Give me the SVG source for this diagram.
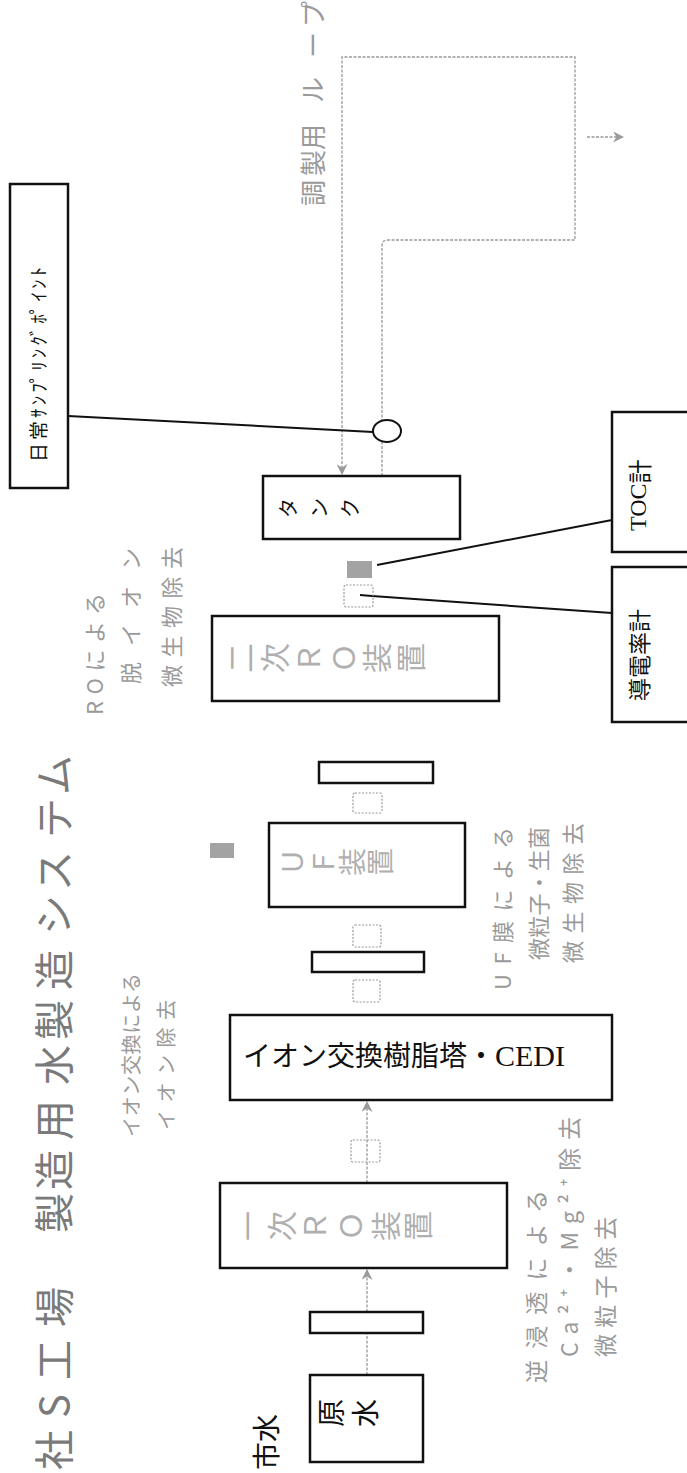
<svg xmlns="http://www.w3.org/2000/svg" width="687" height="1473" viewBox="0 0 687 1473">
<defs>
<style>
.box{fill:#fff;stroke:#111;stroke-width:2.5}
.flt{fill:#fff;stroke:#111;stroke-width:2.5}
.dbox{fill:none;stroke:#999;stroke-width:1.2;stroke-dasharray:2 1.5}
.gsq{fill:#a3a3a3}
.flow{fill:none;stroke:#999;stroke-width:1.3;stroke-dasharray:3 1.5}
.blk{fill:none;stroke:#111;stroke-width:2}
.jp{font-family:"Noto Sans CJK JP","Noto Sans",sans-serif}
.ser{font-family:"Liberation Serif","Noto Sans CJK JP",serif}
.gray{fill:#9a9a9a}
.lgray{fill:#b0b0b0}
.dark{fill:#111}
</style>
<marker id="arr" viewBox="0 0 10 10" refX="9" refY="5" markerWidth="11" markerHeight="11" markerUnits="userSpaceOnUse" orient="auto">
<path d="M0,0 L10,5 L0,10 L3,5 z" fill="#9a9a9a"/>
</marker>
</defs>
<rect width="687" height="1473" fill="#fff"/>

<g id="title">
<text class="jp" fill="#7a7a7a" font-size="40" transform="rotate(-90)" text-anchor="middle" dominant-baseline="central" y="52" x="-1450 -1406 -1360 -1307 -1213 -1170 -1120 -1065 -1020 -970 -915 -871 -818 -775">社S工場製造用水製造システム</text>
</g>

<g id="connectors">
<line class="flow" x1="367" y1="1375" x2="367" y2="1333"/>
<line class="flow" x1="367" y1="1312" x2="367" y2="1270" marker-end="url(#arr)"/>
<line class="flow" x1="367" y1="1183" x2="367" y2="1102" marker-end="url(#arr)"/>
<path class="flow" d="M382,476 V246 Q382,240 388,240 H575 V57 H342 V474" marker-end="url(#arr)"/>
<line class="flow" x1="587" y1="137" x2="623" y2="137" marker-end="url(#arr)"/>
<line class="blk" x1="68" y1="416" x2="373" y2="432"/>
<line class="blk" x1="377" y1="565" x2="612" y2="520"/>
<polyline class="blk" points="360,595 372,596 612,613"/>
</g>

<g id="shiyousui">
<text class="jp dark" font-size="28" transform="rotate(-90)" x="-1470" y="265" dominant-baseline="central">市水</text>
</g>

<g id="gensui">
<rect class="box" x="310" y="1375" width="113" height="87"/>
<text class="jp dark" font-size="28" rotate="-90" x="341.6 375.6" y="1427">原水</text>
</g>

<g id="filter1"><rect class="flt" x="310" y="1312" width="113" height="21"/></g>

<g id="ro1">
<rect class="box" x="220" y="1183" width="287" height="85"/>
<text class="jp lgray" font-size="30" rotate="-90" x="259.4 293.4 326.4 362.4 397.4 429.4" y="1241">一次ＲＯ装置</text>
</g>

<g id="valve1"><rect class="dbox" x="351" y="1140" width="29" height="22" rx="2"/></g>

<g id="ion">
<rect class="box" x="230" y="1015" width="382" height="85"/>
<text class="dark" font-size="28" x="243" y="1066"><tspan class="jp">イオン交換樹脂塔・</tspan><tspan class="ser" font-size="30">CEDI</tspan></text>
</g>

<g id="valve2"><rect class="dbox" x="353" y="980" width="27" height="22" rx="2"/></g>
<g id="filter2"><rect class="flt" x="312" y="952" width="112" height="20"/></g>
<g id="valve3"><rect class="dbox" x="353" y="925" width="28" height="22" rx="2"/></g>

<g id="uf">
<rect class="box" x="269" y="823" width="196" height="84"/>
<text class="jp lgray" font-size="28" rotate="-90" x="302.6 333.6 362.6 390.6" y="876">ＵＦ装置</text>
</g>
<g id="uf-point"><rect class="gsq" x="210" y="843" width="24" height="15"/></g>

<g id="valve4"><rect class="dbox" x="353" y="793" width="29" height="20" rx="2"/></g>
<g id="filter3"><rect class="flt" x="319" y="762" width="114" height="21"/></g>

<g id="ro2">
<rect class="box" x="212" y="616" width="287" height="85"/>
<text class="jp lgray" font-size="30" rotate="-90" x="252.4 286.4 320.4 355.4 388.4 422.4" y="673">二次ＲＯ装置</text>
</g>

<g id="cond-point"><rect class="dbox" x="344" y="585" width="29" height="22" rx="2"/></g>
<g id="toc-point"><rect class="gsq" x="347" y="561" width="25" height="17"/></g>

<g id="tank">
<rect class="box" x="263" y="476" width="197" height="63"/>
<text class="jp dark" font-size="20" rotate="-90" x="295.6 326.6 357.6" y="518">タンク</text>
</g>

<g id="sampling-point"><ellipse cx="387" cy="431" rx="14" ry="11" fill="#fff" stroke="#111" stroke-width="2"/></g>

<g id="sampling">
<rect class="box" x="10" y="184" width="58" height="304"/>
<text class="jp dark" font-size="19" transform="rotate(-90)" x="-462" y="37" dominant-baseline="central" textLength="195" lengthAdjust="spacing">日常ｻﾝﾌﾟﾘﾝｸﾞﾎﾟｲﾝﾄ</text>
</g>

<g id="toc">
<rect class="box" x="612" y="412" width="90" height="140"/>
<text class="dark" font-size="24" transform="rotate(-90)" x="-531" y="638" dominant-baseline="central"><tspan class="ser">TOC</tspan><tspan class="jp">計</tspan></text>
</g>

<g id="cond">
<rect class="box" x="612" y="567" width="90" height="155"/>
<text class="jp dark" font-size="23" transform="rotate(-90)" x="-701" y="638" dominant-baseline="central">導電率計</text>
</g>

<g id="loop-label">
<text class="jp gray" font-size="26" transform="rotate(-90)" text-anchor="middle" dominant-baseline="central" y="311" x="-193 -163 -137 -90 -45 -14">調製用ループ</text>
</g>

<g id="note-ro2" class="jp gray" font-size="22">
<text transform="rotate(-90)" x="-715" y="93" dominant-baseline="central" textLength="122" lengthAdjust="spacing">ROによる</text>
<text transform="rotate(-90)" x="-684" y="129" dominant-baseline="central" textLength="136" lengthAdjust="spacing">脱イオン</text>
<text transform="rotate(-90)" x="-687" y="170" dominant-baseline="central" textLength="140" lengthAdjust="spacing">微生物除去</text>
</g>

<g id="note-ion" class="jp gray" font-size="20">
<text transform="rotate(-90)" x="-1137" y="130" dominant-baseline="central" textLength="164" lengthAdjust="spacing">イオン交換による</text>
<text transform="rotate(-90)" x="-1130" y="165" dominant-baseline="central" textLength="130" lengthAdjust="spacing">イオン除去</text>
</g>

<g id="note-uf" class="jp gray" font-size="22">
<text transform="rotate(-90)" x="-990" y="501" dominant-baseline="central" textLength="163" lengthAdjust="spacing">UF膜による</text>
<text transform="rotate(-90)" x="-960" y="537" dominant-baseline="central" textLength="133" lengthAdjust="spacing">微粒子・生菌</text>
<text transform="rotate(-90)" x="-963" y="571" dominant-baseline="central" textLength="140" lengthAdjust="spacing">微生物除去</text>
</g>

<g id="note-ro1" class="jp gray" font-size="23">
<text transform="rotate(-90)" x="-1383" y="535" dominant-baseline="central" textLength="193" lengthAdjust="spacing">逆浸透による</text>
<text transform="rotate(-90)" x="-1357" y="568" dominant-baseline="central" textLength="240" lengthAdjust="spacing">Ca²⁺・Mg²⁺除去</text>
<text transform="rotate(-90)" x="-1357" y="604" dominant-baseline="central" textLength="140" lengthAdjust="spacing">微粒子除去</text>
</g>
</svg>
